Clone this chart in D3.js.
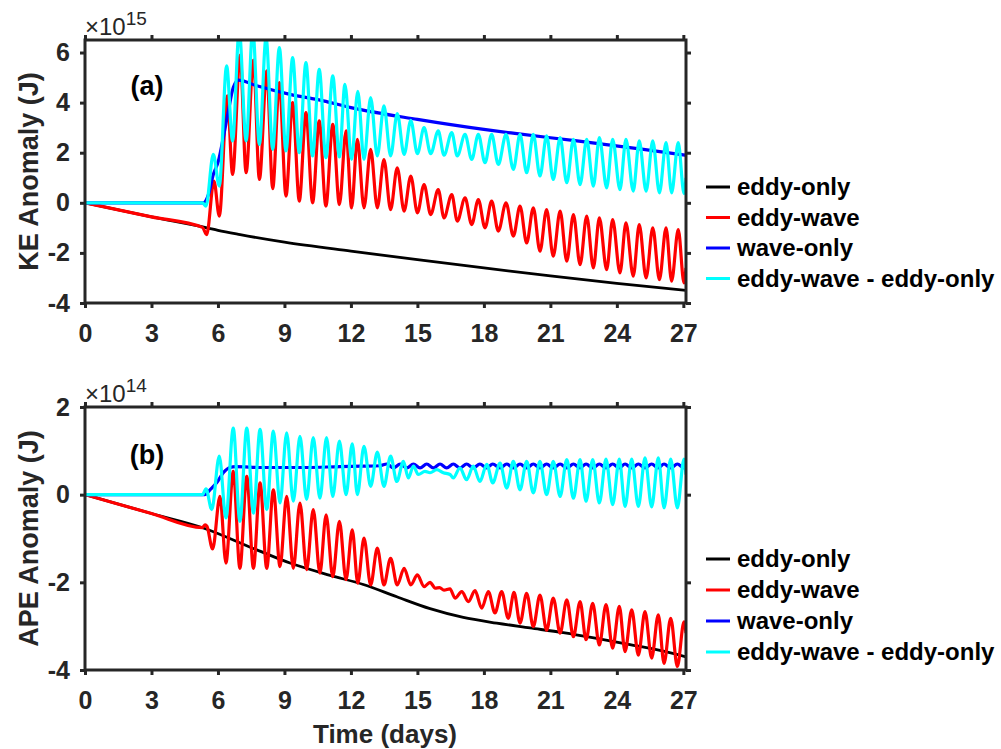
<!DOCTYPE html>
<html>
<head>
<meta charset="utf-8">
<script src="https://cdn.jsdelivr.net/npm/d3@7"></script>
<style>
  html, body { margin: 0; padding: 0; background: #ffffff; }
  svg { display: block; }
  text { font-family: Arial, "Liberation Sans", sans-serif; }
</style>
</head>
<body>
<div id="chart"></div>
<script>
// ---------------- data ----------------
const xTicks = [0, 3, 6, 9, 12, 15, 18, 21, 24, 27];
const keTicks = [-4, -2, 0, 2, 4, 6];
const apeTicks = [-4, -2, 0, 2];
const seriesNames = ["eddy-only", "eddy-wave", "wave-only", "eddy-wave - eddy-only"];
const seriesColors = ["#000000", "#ff0000", "#0000ff", "#00ffff"];

// Panel (a) KE anomaly, units 1e15 J, [time (days), value]
const keEddyOnly = [[0,0],[3,-0.56],[5.5,-1.0],[6,-1.1],[7,-1.27],[9,-1.57],[12,-1.93],[15,-2.27],[18,-2.6],[21,-2.92],[24,-3.22],[27.12,-3.5]];
const keEddyWave = [[0,0],[3,-0.56],[5.3,-0.98],[5.49,-1.27],[5.82,0.87],[6.06,-0.53],[6.42,4.27],[6.66,1.13],[7.0,5.9],[7.27,1.2],[7.6,5.7],[7.87,0.93],[8.2,5.27],[8.47,0.57],[8.77,4.8],[9.07,0.27],[9.37,4.0],[9.67,0.07],[9.97,3.6],[10.27,0.0],[10.57,3.27],[10.87,-0.13],[11.18,3.13],[11.48,-0.07],[11.78,2.87],[12.03,-0.2],[12.29,2.53],[12.59,-0.2],[12.89,2.13],[13.19,-0.2],[13.49,1.73],[13.79,-0.27],[14.09,1.4],[14.4,-0.33],[14.7,1.07],[15.0,-0.4],[15.3,0.73],[15.6,-0.47],[15.94,0.53],[16.2,-0.6],[16.55,0.33],[16.8,-0.73],[17.15,0.2],[17.45,-0.87],[17.75,0.13],[18.05,-1.0],[18.35,0.07],[18.65,-1.13],[19.0,0.0],[19.33,-1.33],[19.63,-0.13],[19.93,-1.6],[20.23,-0.2],[20.53,-1.93],[20.83,-0.27],[21.13,-2.13],[21.44,-0.33],[21.74,-2.33],[22.04,-0.47],[22.34,-2.47],[22.64,-0.53],[22.94,-2.6],[23.21,-0.6],[23.54,-2.67],[23.81,-0.67],[24.14,-2.8],[24.41,-0.8],[24.74,-2.93],[25.01,-0.87],[25.32,-3.0],[25.62,-1.0],[25.92,-3.07],[26.22,-1.0],[26.47,-3.13],[26.77,-1.07],[27.03,-3.2],[27.12,-2.6]];
const keWaveOnly = [[0,0],[5.34,0],[5.57,0.33],[5.79,1.13],[6.02,1.67],[6.24,2.6],[6.47,3.67],[6.69,4.6],[6.92,4.9],[7.75,4.67],[9.25,4.33],[10.75,4.07],[12.0,3.8],[15.0,3.33],[18.0,2.93],[19.4,2.77],[22.2,2.47],[25.2,2.13],[27.12,1.9]];
const keDiff = [[0,0],[5.3,0],[5.46,-0.13],[5.79,1.93],[6.06,0.67],[6.39,5.47],[6.66,2.47],[6.96,6.9],[7.27,2.47],[7.57,6.9],[7.87,2.33],[8.17,6.6],[8.47,2.13],[8.77,6.2],[9.07,2.07],[9.37,5.8],[9.67,2.0],[9.97,5.6],[10.27,1.87],[10.57,5.33],[10.87,1.8],[11.18,5.07],[11.48,1.83],[11.73,4.73],[12.03,1.73],[12.31,4.45],[12.59,1.73],[12.89,4.2],[13.19,1.87],[13.49,3.87],[13.79,1.87],[14.09,3.56],[14.4,1.93],[14.7,3.29],[15.0,1.96],[15.3,3.0],[15.6,1.96],[15.94,2.87],[16.2,1.9],[16.55,2.8],[16.8,1.87],[17.15,2.73],[17.45,1.73],[17.75,2.73],[18.05,1.6],[18.35,2.73],[18.65,1.53],[19.0,2.73],[19.33,1.33],[19.63,2.73],[19.93,1.2],[20.23,2.73],[20.53,1.07],[20.83,2.67],[21.13,0.93],[21.44,2.6],[21.74,0.8],[22.04,2.53],[22.34,0.73],[22.64,2.53],[22.94,0.67],[23.21,2.6],[23.54,0.6],[23.81,2.53],[24.14,0.53],[24.41,2.53],[24.74,0.47],[25.01,2.47],[25.32,0.47],[25.62,2.47],[25.92,0.4],[26.22,2.4],[26.47,0.4],[26.77,2.4],[27.03,0.37],[27.12,1.0]];

// Panel (b) APE anomaly, units 1e14 J, [time (days), value]
const apeEddyOnly = [[0,0],[3,-0.43],[5.34,-0.76],[7.75,-1.26],[9.25,-1.56],[11.06,-1.84],[12.56,-2.05],[14.07,-2.33],[15.57,-2.6],[17.07,-2.8],[18.58,-2.93],[20.08,-3.04],[21.58,-3.15],[23.09,-3.28],[24.59,-3.42],[26.1,-3.57],[27.12,-3.7]];
const apeEddyWave = [[0,0],[3,-0.43],[5.3,-0.75],[5.42,-0.69],[5.5,-0.72],[5.76,-1.24],[6.09,-0.04],[6.36,-1.56],[6.69,0.53],[6.99,-1.68],[7.3,0.42],[7.6,-1.68],[7.9,0.27],[8.2,-1.68],[8.5,0.11],[8.8,-1.64],[9.1,-0.04],[9.4,-1.68],[9.7,-0.19],[10.0,-1.71],[10.3,-0.34],[10.6,-1.79],[10.88,-0.46],[11.18,-1.87],[11.48,-0.61],[11.78,-1.94],[12.06,-0.8],[12.31,-2.02],[12.59,-0.99],[12.89,-2.06],[13.19,-1.22],[13.49,-2.06],[13.79,-1.45],[14.09,-2.06],[14.4,-1.68],[14.7,-2.06],[15.0,-1.83],[15.3,-2.1],[15.57,-2.0],[15.8,-2.13],[16.0,-2.12],[16.2,-2.18],[16.47,-2.15],[16.7,-2.36],[17.0,-2.21],[17.3,-2.44],[17.6,-2.19],[17.9,-2.59],[18.2,-2.21],[18.5,-2.7],[18.8,-2.21],[19.1,-2.82],[19.36,-2.23],[19.63,-2.93],[19.93,-2.25],[20.23,-3.01],[20.53,-2.29],[20.83,-3.09],[21.13,-2.36],[21.44,-3.16],[21.74,-2.4],[22.04,-3.24],[22.34,-2.44],[22.61,-3.31],[22.91,-2.48],[23.21,-3.43],[23.51,-2.51],[23.81,-3.5],[24.11,-2.55],[24.37,-3.58],[24.67,-2.63],[24.97,-3.66],[25.27,-2.67],[25.57,-3.73],[25.87,-2.74],[26.13,-3.85],[26.43,-2.82],[26.73,-3.92],[27.03,-2.9],[27.12,-3.16]];
const apeWaveOnly = [[0,0],[5.4,0],[5.64,0.11],[5.94,0.27],[6.24,0.5],[6.54,0.62],[6.8,0.64],[8.0,0.62],[10.0,0.62],[11.5,0.64],[12.5,0.65],[13.32,0.66],[13.62,0.7],[13.92,0.61],[14.22,0.7],[14.52,0.61],[14.82,0.7],[15.12,0.61],[15.42,0.7],[15.72,0.61],[16.02,0.7],[16.32,0.61],[16.62,0.7],[16.92,0.61],[17.22,0.7],[17.52,0.61],[17.82,0.7],[18.13,0.61],[18.4,0.7],[18.73,0.61],[19.03,0.7],[19.33,0.61],[19.63,0.7],[19.93,0.61],[20.23,0.7],[20.53,0.61],[20.83,0.7],[21.13,0.61],[21.44,0.7],[21.74,0.61],[22.04,0.7],[22.34,0.61],[22.61,0.7],[22.91,0.61],[23.21,0.7],[23.51,0.61],[23.81,0.7],[24.11,0.61],[24.37,0.7],[24.67,0.61],[24.97,0.7],[25.27,0.61],[25.57,0.7],[25.87,0.61],[26.13,0.7],[26.43,0.61],[26.73,0.7],[27.03,0.61],[27.12,0.64]];
const apeDiff = [[0,0],[5.3,0],[5.46,0.13],[5.72,-0.34],[6.06,0.88],[6.36,-0.53],[6.69,1.52],[6.99,-0.61],[7.3,1.52],[7.6,-0.42],[7.9,1.49],[8.2,-0.34],[8.5,1.45],[8.8,-0.19],[9.1,1.41],[9.4,-0.15],[9.7,1.33],[10.0,-0.11],[10.3,1.3],[10.6,-0.08],[10.9,1.3],[11.18,-0.04],[11.48,1.22],[11.78,0.0],[12.06,1.16],[12.29,0.0],[12.59,1.1],[12.89,0.19],[13.19,0.97],[13.49,0.19],[13.79,0.88],[14.07,0.3],[14.37,0.76],[14.59,0.38],[14.82,0.65],[15.04,0.46],[15.34,0.53],[15.57,0.5],[15.87,0.57],[16.17,0.5],[16.47,0.46],[16.62,0.38],[16.92,0.61],[17.22,0.34],[17.52,0.65],[17.82,0.3],[18.13,0.69],[18.4,0.27],[18.73,0.72],[19.03,0.15],[19.33,0.76],[19.63,0.11],[19.93,0.76],[20.23,0.04],[20.53,0.76],[20.83,0.0],[21.13,0.76],[21.44,-0.04],[21.74,0.8],[22.04,-0.08],[22.34,0.8],[22.61,-0.15],[22.91,0.8],[23.21,-0.19],[23.51,0.81],[23.81,-0.23],[24.11,0.81],[24.37,-0.27],[24.67,0.81],[24.97,-0.27],[25.27,0.84],[25.57,-0.28],[25.87,0.84],[26.13,-0.3],[26.43,0.81],[26.73,-0.3],[27.03,0.81],[27.12,0.46]];

// ---------------- drawing ----------------
const W = 1001, H = 749;
const axisColor = "#262626";
const svg = d3.select("#chart").append("svg").attr("width", W).attr("height", H);

const xDomain = [0, 27.12];
const xRange = [85, 686];
const fmt = d => (d < 0 ? "-" + Math.abs(d) : String(d));

function drawPanel(p) {
  const x = d3.scaleLinear().domain(xDomain).range(xRange);
  const y = d3.scaleLinear().domain(p.yDomain).range(p.yRange);
  const g = svg.append("g");

  const clipId = "clip-" + p.id;
  svg.append("defs").append("clipPath").attr("id", clipId)
    .append("rect")
    .attr("x", xRange[0]).attr("y", p.yRange[1])
    .attr("width", xRange[1] - xRange[0]).attr("height", p.yRange[0] - p.yRange[1]);

  const line = d3.line().x(d => x(d[0])).y(d => y(d[1])).curve(d3.curveMonotoneX);
  const lg = g.append("g").attr("clip-path", `url(#${clipId})`);
  p.series.forEach((s, i) => {
    lg.append("path").datum(s)
      .attr("fill", "none")
      .attr("stroke", seriesColors[i])
      .attr("stroke-width", i === 0 ? 2.8 : 3.2)
      .attr("stroke-linejoin", "round")
      .attr("d", line);
  });

  // axes (ticks outward, on all four sides)
  const tickLen = 5;
  const bottom = g.append("g").attr("transform", `translate(0,${p.yRange[0]})`)
    .call(d3.axisBottom(x).tickValues(xTicks).tickSize(tickLen).tickPadding(16).tickFormat(fmt).tickSizeOuter(0));
  const top = g.append("g").attr("transform", `translate(0,${p.yRange[1]})`)
    .call(d3.axisTop(x).tickValues(xTicks).tickSize(tickLen).tickFormat("").tickSizeOuter(0));
  const left = g.append("g").attr("transform", `translate(${xRange[0]},0)`)
    .call(d3.axisLeft(y).tickValues(p.yTicks).tickSize(tickLen).tickPadding(10).tickFormat(fmt).tickSizeOuter(0));
  const right = g.append("g").attr("transform", `translate(${xRange[1]},0)`)
    .call(d3.axisRight(y).tickValues(p.yTicks).tickSize(tickLen).tickFormat("").tickSizeOuter(0));
  [bottom, top, left, right].forEach(a => {
    a.attr("font-size", null).attr("font-family", null);
    a.select(".domain").remove();
    a.selectAll(".tick line").attr("stroke", axisColor).attr("stroke-width", 3);
    a.selectAll(".tick text").attr("fill", axisColor)
      .style("font-size", "25px").style("font-weight", "bold")
      .style("font-family", "Arial, 'Liberation Sans', sans-serif");
  });

  g.append("rect")
    .attr("x", xRange[0]).attr("y", p.yRange[1])
    .attr("width", xRange[1] - xRange[0]).attr("height", p.yRange[0] - p.yRange[1])
    .attr("fill", "none").attr("stroke", axisColor).attr("stroke-width", 3);

  // exponent label
  const ex = g.append("text").attr("x", 85).attr("y", p.yRange[1] - 5)
    .attr("font-size", 24).attr("fill", axisColor);
  ex.append("tspan").text("\u00d710");
  ex.append("tspan").attr("font-size", 19).attr("dy", -10).text(p.exponent);

  // panel letter
  g.append("text").attr("x", 147).attr("y", p.letterY)
    .attr("text-anchor", "middle").attr("font-size", 27).attr("font-weight", "bold")
    .text(p.letter);

  // y label
  g.append("text")
    .attr("transform", `translate(38,${(p.yRange[0] + p.yRange[1]) / 2}) rotate(-90)`)
    .attr("text-anchor", "middle").attr("font-size", 27).attr("font-weight", "bold")
    .attr("fill", axisColor)
    .text(p.ylabel);

  // legend
  const leg = g.append("g");
  seriesNames.forEach((name, i) => {
    const cy = p.legendY + i * p.legendStep;
    leg.append("line").attr("x1", 706).attr("x2", 730).attr("y1", cy).attr("y2", cy)
      .attr("stroke", seriesColors[i]).attr("stroke-width", 3);
    leg.append("text").attr("x", 737).attr("y", cy).attr("dy", "0.35em")
      .attr("font-size", 24).attr("font-weight", "bold").text(name);
  });
}

drawPanel({
  id: "a", yDomain: [-4, 6.5], yRange: [303, 40], yTicks: keTicks,
  series: [keEddyOnly, keEddyWave, keWaveOnly, keDiff],
  exponent: "15", letter: "(a)", letterY: 95, ylabel: "KE Anomaly (J)",
  legendY: 187, legendStep: 30.5
});
drawPanel({
  id: "b", yDomain: [-4, 2], yRange: [670, 407], yTicks: apeTicks,
  series: [apeEddyOnly, apeEddyWave, apeWaveOnly, apeDiff],
  exponent: "14", letter: "(b)", letterY: 464, ylabel: "APE Anomaly (J)",
  legendY: 559, legendStep: 31
});

svg.append("text").attr("x", 385).attr("y", 743)
  .attr("text-anchor", "middle").attr("font-size", 26).attr("font-weight", "bold")
  .attr("fill", axisColor)
  .text("Time (days)");
</script>
</body>
</html>
